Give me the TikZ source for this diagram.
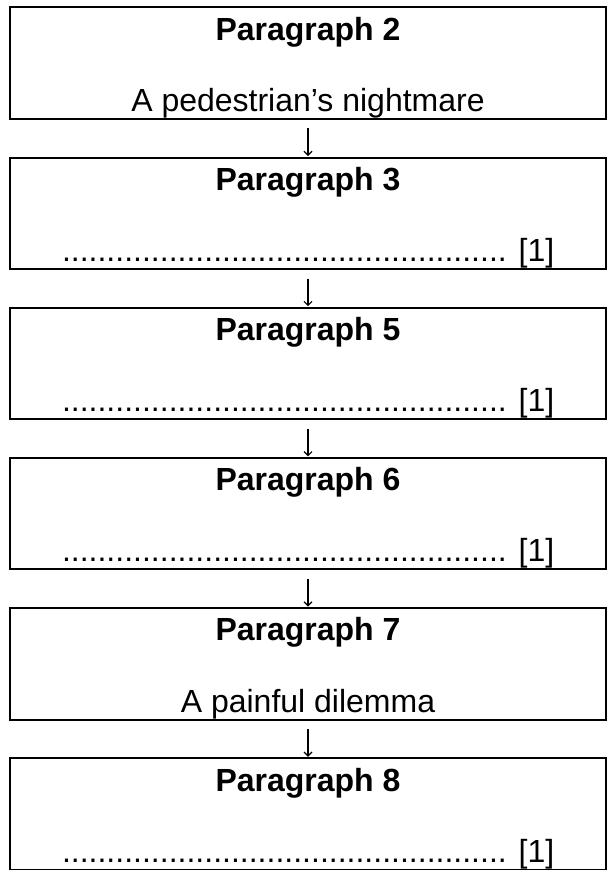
\documentclass[tikz,border=0pt]{standalone}
\usepackage{fontspec}
\setmainfont{Liberation Sans}
\usetikzlibrary{positioning,arrows.meta}

\begin{document}
\begin{tikzpicture}[x=1pt,y=1pt,
        parbox/.style={rectangle, draw=black, line width=2pt, minimum width=596pt, minimum height=111.5pt, outer sep=0pt, inner sep=0pt},
        headtext/.style={font=\fontsize{32}{38}\selectfont\bfseries, inner sep=0pt, anchor=base},
        bodytext/.style={font=\fontsize{32}{38}\selectfont, inner sep=0pt, anchor=base},
        nextarrow/.style={line width=1.2pt, -{Straight Barb[length=4pt,width=8pt]}, shorten <=9.5pt, shorten >=1.5pt}]

        \useasboundingbox (0,0) rectangle (610,870);

        \node[parbox] (2) at (308,806.9) {};
        \node[parbox] (3) [below=38.7pt of 2] {};
        \node[parbox] (5) [below=38.7pt of 3] {};
        \node[parbox] (6) [below=38.7pt of 5] {};
        \node[parbox] (7) [below=38.7pt of 6] {};
        \node[parbox] (8) [below=38.7pt of 7] {};

        \node[headtext] (h2) at ([yshift=-32.7pt]2.north) {Paragraph 2};
        \node[headtext] (h3) at ([yshift=-32.7pt]3.north) {Paragraph 3};
        \node[headtext] (h5) at ([yshift=-32.7pt]5.north) {Paragraph 5};
        \node[headtext] (h6) at ([yshift=-32.7pt]6.north) {Paragraph 6};
        \node[headtext] (h7) at ([yshift=-32.7pt]7.north) {Paragraph 7};
        \node[headtext] (h8) at ([yshift=-32.7pt]8.north) {Paragraph 8};

        \node[bodytext] (t2) at ([yshift=7.5pt]2.south) {A pedestrian’s nightmare};
        \node[bodytext] (t3) at ([yshift=7.5pt]3.south) {.................................................. [1]};
        \node[bodytext] (t5) at ([yshift=7.5pt]5.south) {.................................................. [1]};
        \node[bodytext] (t6) at ([yshift=7.5pt]6.south) {.................................................. [1]};
        \node[bodytext] (t7) at ([yshift=7.5pt]7.south) {A painful dilemma};
        \node[bodytext] (t8) at ([yshift=7.5pt]8.south) {.................................................. [1]};

        \draw[nextarrow] (2) -- (3);
        \draw[nextarrow] (3) -- (5);
        \draw[nextarrow] (5) -- (6);
        \draw[nextarrow] (6) -- (7);
        \draw[nextarrow] (7) -- (8);

        \end{tikzpicture}
\end{document}
